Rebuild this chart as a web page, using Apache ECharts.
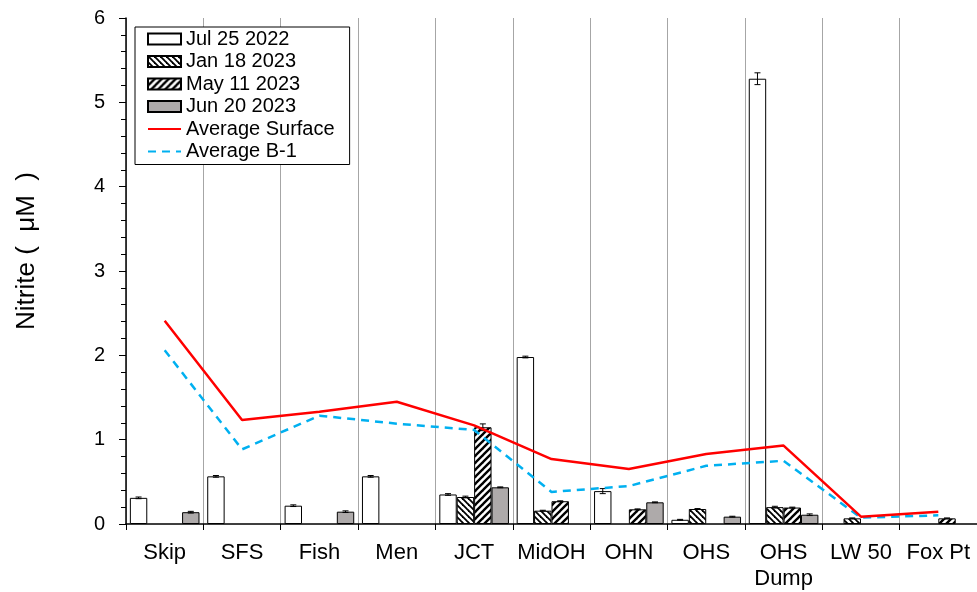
<!DOCTYPE html>
<html>
<head>
<meta charset="utf-8">
<script src="https://cdn.jsdelivr.net/npm/echarts@6/dist/echarts.min.js"></script>
<style>
  html, body { margin: 0; padding: 0; background: #fff; }
  #chart { width: 977px; height: 592px; }
</style>
</head>
<body>
<div id="chart"></div>
<script>
// Sampling stations along the x axis
const categories = ['Skip', 'SFS', 'Fish', 'Men', 'JCT', 'MidOH', 'OHN', 'OHS', 'OHS\nDump', 'LW 50', 'Fox Pt'];

// Nitrite (µM) per sampling date; null = not sampled
const jul2022 = [0.31, 0.565, 0.217, 0.565, 0.35, 1.98, 0.39, 0.05, 5.28, null, null];
const jan2023 = [null, null, null, null, 0.32, 0.158, null, 0.178, 0.2, 0.067, null];
const may2023 = [null, null, null, null, 1.147, 0.27, 0.174, null, 0.195, null, 0.067];
const jun2023 = [0.14, null, 0.146, null, 0.435, null, 0.257, 0.087, 0.11, null, null];

// Error bar half-widths for each date
const jul2022Err = [0.01, 0.01, 0.01, 0.01, 0.01, 0.01, 0.03, 0.005, 0.07, null, null];
const jan2023Err = [null, null, null, null, 0.01, 0.005, null, 0.005, 0.01, 0.005, null];
const may2023Err = [null, null, null, null, 0.04, 0.005, 0.005, null, 0.005, null, 0.005];
const jun2023Err = [0.01, null, 0.01, null, 0.005, null, 0.005, 0.005, 0.01, null, null];

// Averages across stations
const avgSurface = [2.41, 1.233, 1.33, 1.45, 1.17, 0.77, 0.652, 0.83, 0.93, 0.087, 0.146];
const avgB1 = [2.06, 0.885, 1.285, 1.19, 1.115, 0.38, 0.45, 0.69, 0.75, 0.075, 0.103];

const yTicks = { min: 0, max: 6, interval: 1 };

const FONT = "'Liberation Sans', Arial, sans-serif";

// Diagonal hatch tiles for the patterned bars
function hatch(dir, size, width) {
  const c = document.createElement('canvas');
  c.width = size; c.height = size;
  const g = c.getContext('2d');
  g.fillStyle = '#fff';
  g.fillRect(0, 0, size, size);
  g.strokeStyle = '#000';
  g.lineWidth = width;
  g.lineCap = 'square';
  for (let k = -size; k <= size; k += size) {
    g.beginPath();
    if (dir === 'back') { g.moveTo(k, 0); g.lineTo(k + size, size); }
    else { g.moveTo(k, size); g.lineTo(k + size, 0); }
    g.stroke();
  }
  return c;
}

const backHatch = { image: hatch('back', 6, 1.8), repeat: 'repeat' };
const fwdHatch = { image: hatch('fwd', 7, 2.4), repeat: 'repeat' };

const BAR_COUNT = 4;
const CAT_GAP = 0.1;

function errorData(vals, errs) {
  const out = [];
  vals.forEach((v, i) => {
    if (v != null && errs[i] != null) out.push([i, v, errs[i]]);
  });
  return out;
}

function errorSeries(slot, vals, errs) {
  return {
    type: 'custom',
    z: 5,
    silent: true,
    data: errorData(vals, errs),
    renderItem: function (params, api) {
      const ci = api.value(0), v = api.value(1), e = api.value(2);
      const xc = api.coord([ci, 0])[0];
      const band = api.size([1, 0])[0];
      const bw = band * (1 - CAT_GAP) / BAR_COUNT;
      const x = xc - band * (1 - CAT_GAP) / 2 + (slot + 0.5) * bw;
      const yT = api.coord([ci, v + e])[1];
      const yB = api.coord([ci, Math.max(0, v - e)])[1];
      const cap = 3;
      const st = { stroke: '#000', lineWidth: 1 };
      return {
        type: 'group',
        children: [
          { type: 'line', shape: { x1: x, y1: yT, x2: x, y2: yB }, style: st },
          { type: 'line', shape: { x1: x - cap, y1: yT, x2: x + cap, y2: yT }, style: st },
          { type: 'line', shape: { x1: x - cap, y1: yB, x2: x + cap, y2: yB }, style: st }
        ]
      };
    }
  };
}

function barSeries(name, data, color) {
  return {
    name: name,
    type: 'bar',
    data: data,
    barGap: 0,
    barCategoryGap: (CAT_GAP * 100) + '%',
    itemStyle: { color: color, borderColor: '#000', borderWidth: 1 }
  };
}

const chart = echarts.init(document.getElementById('chart'), null, { renderer: 'canvas' });

chart.setOption({
  animation: false,
  backgroundColor: '#fff',
  textStyle: { fontFamily: FONT },
  grid: { left: 126, right: 0, top: 18, bottom: 68 },
  graphic: [{
    type: 'text',
    x: 27,
    y: 251,
    rotation: Math.PI / 2,
    style: {
      text: 'Nitrite (  μM  )',
      font: '26px ' + FONT,
      fill: '#000',
      textAlign: 'center',
      textVerticalAlign: 'middle'
    }
  }],
  legend: {
    orient: 'vertical',
    left: 135,
    top: 27,
    padding: [2, 15, 3, 12],
    itemGap: 2.5,
    itemWidth: 33,
    itemHeight: 11,
    borderColor: '#000',
    borderWidth: 1,
    backgroundColor: '#fff',
    textStyle: { fontFamily: FONT, fontSize: 20, color: '#000', lineHeight: 20 },
    data: [
      { name: 'Jul 25 2022', icon: 'rect' },
      { name: 'Jan 18 2023', icon: 'rect' },
      { name: 'May 11 2023', icon: 'rect' },
      { name: 'Jun 20 2023', icon: 'rect' },
      { name: 'Average Surface', itemStyle: { opacity: 0 } },
      { name: 'Average B-1', itemStyle: { opacity: 0 } }
    ]
  },
  xAxis: {
    type: 'category',
    data: categories,
    boundaryGap: true,
    axisLine: { lineStyle: { color: '#000', width: 1.5 } },
    axisTick: { show: true, length: 6, alignWithLabel: false, lineStyle: { color: '#000' } },
    axisLabel: { color: '#000', fontSize: 22, fontFamily: FONT, margin: 16, lineHeight: 26, interval: 0 },
    splitLine: { show: true, lineStyle: { color: '#a6a6a6', width: 1 } }
  },
  yAxis: {
    type: 'value',
    min: yTicks.min,
    max: yTicks.max,
    interval: yTicks.interval,
    axisLine: { show: true, lineStyle: { color: '#000', width: 1.5 } },
    axisTick: { show: true, inside: false, length: 7, lineStyle: { color: '#000' } },
    minorTick: { show: true, splitNumber: 5, length: 5, lineStyle: { color: '#000' } },
    axisLabel: { color: '#000', fontSize: 20, fontFamily: FONT, margin: 21 },
    splitLine: { show: false }
  },
  series: [
    barSeries('Jul 25 2022', jul2022, '#ffffff'),
    barSeries('Jan 18 2023', jan2023, backHatch),
    barSeries('May 11 2023', may2023, fwdHatch),
    barSeries('Jun 20 2023', jun2023, '#aeaaaa'),
    errorSeries(0, jul2022, jul2022Err),
    errorSeries(1, jan2023, jan2023Err),
    errorSeries(2, may2023, may2023Err),
    errorSeries(3, jun2023, jun2023Err),
    {
      name: 'Average Surface',
      type: 'line',
      data: avgSurface,
      symbol: 'none',
      z: 10,
      lineStyle: { color: '#ff0000', width: 2.5 },
      itemStyle: { color: '#ff0000' }
    },
    {
      name: 'Average B-1',
      type: 'line',
      data: avgB1,
      symbol: 'none',
      z: 9,
      lineStyle: { color: '#00b0f0', width: 2.5, type: [8, 6] },
      itemStyle: { color: '#00b0f0' }
    }
  ]
});
</script>
</body>
</html>
